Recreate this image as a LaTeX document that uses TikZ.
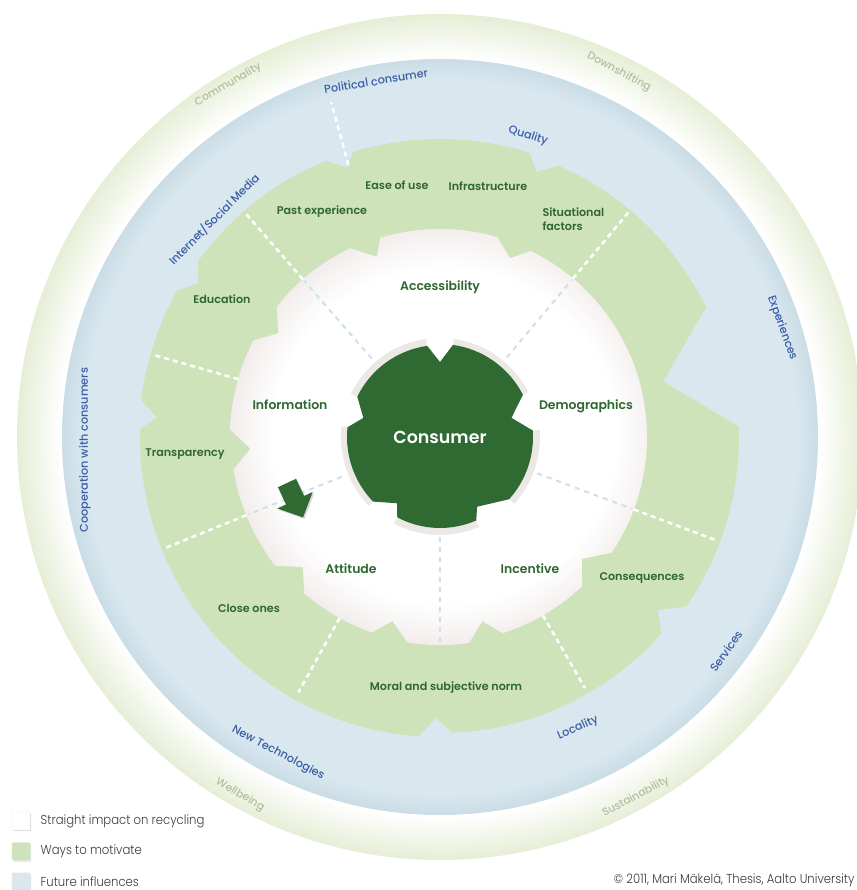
\documentclass[tikz,border=0pt]{standalone}
\usepackage{fontspec}
\setmainfont{Poppins}[BoldFont={Poppins SemiBold}]
\newfontfamily\keyfont{Poppins Light}[FakeStretch=0.9]
\newfontfamily\ringfont{Poppins Medium}
\usetikzlibrary{positioning, shadows}

\definecolor{trendgreen}{HTML}{E6EED6}
\definecolor{futureblue}{HTML}{D9E8EF}
\definecolor{futureedge}{HTML}{CADCE5}
\definecolor{motivgreen}{HTML}{CEE3BA}
\definecolor{impactedge}{HTML}{F2EDEC}
\definecolor{consumergreen}{HTML}{2E6A32}
\definecolor{halogray}{HTML}{ECE8E6}
\definecolor{labelgreen}{HTML}{2F6631}
\definecolor{labelblue}{HTML}{3A5CA6}
\definecolor{labelpale}{HTML}{B3BE9F}
\definecolor{innerdash}{HTML}{CDE0EC}
\definecolor{keygray}{HTML}{3C3C3C}

\pgfdeclareradialshading{trendshade}{\pgfpoint{0bp}{0bp}}{color(0bp)=(white); color(22.4bp)=(white); color(25bp)=(trendgreen); color(50bp)=(trendgreen)}
\pgfdeclareradialshading{futureshade}{\pgfpoint{0bp}{0bp}}{color(0bp)=(futureblue); color(23.6bp)=(futureblue); color(25bp)=(futureedge); color(50bp)=(futureedge)}
\pgfdeclareradialshading{impactshade}{\pgfpoint{0bp}{0bp}}{color(0bp)=(white); color(20bp)=(white); color(25bp)=(impactedge); color(50bp)=(impactedge)}

\tikzset{
    motiv/.style = {font=\bfseries\fontsize{11.2}{14.5}\selectfont, text=labelgreen},
    impact/.style = {font=\bfseries\fontsize{12.5}{15}\selectfont, text=labelgreen},
    future/.style = {font=\ringfont\fontsize{11.3}{13}\selectfont, text=labelblue},
    trend/.style = {font=\ringfont\fontsize{10.8}{13}\selectfont, text=labelpale},
    split/.style = {white, line width=2.5bp, dash pattern=on 5bp off 4bp},
    innersplit/.style = {innerdash, line width=2bp, dash pattern=on 5bp off 5bp},
    keybox/.style = {minimum size=18bp, inner sep=0pt, rounded corners=1bp, draw=black!8, drop shadow={opacity=0.25, shadow xshift=1.2bp, shadow yshift=-1.2bp}},
    keytext/.style = {font=\keyfont\fontsize{13}{15}\selectfont, text=keygray}
}

\begin{document}
\begin{tikzpicture}[x=1bp, y=1bp]

    \useasboundingbox (-440,-453) rectangle (417,437);
    \fill[white] (-440,-453) rectangle (417,437);

    % rings
    \shade[shading=trendshade] (0,0) circle[radius=423];
    \shade[shading=futureshade] (0,0) circle[radius=378];

    % ways to motivate
    \fill[motivgreen]
        (14:230) -- (26:296) arc[start angle=26, end angle=66.5, radius=296]
        -- (70:282) -- (72.5:298) arc[start angle=72.5, end angle=107, radius=298]
        -- (109:285) -- (112.5:299) arc[start angle=112.5, end angle=144, radius=299]
        -- (147.5:287) -- (151:301) arc[start angle=151, end angle=173, radius=301]
        -- (176:284) -- (178.5:300) arc[start angle=178.5, end angle=266, radius=300]
        -- (269:281) -- (272.5:296) arc[start angle=272.5, end angle=318.5, radius=296]
        -- (321.5:278) -- (325.5:299) arc[start angle=325.5, end angle=362, radius=299]
        -- cycle;

    % straight impact
    \shade[shading=impactshade]
        (-34:207) arc[start angle=-34, end angle=64, radius=207]
        -- (68.6:192) -- (74:208) arc[start angle=74, end angle=106.7, radius=208]
        -- (109.3:191) -- (115.5:209) arc[start angle=115.5, end angle=141.4, radius=209]
        -- (147.3:192) -- (152.6:210) arc[start angle=152.6, end angle=178, radius=210]
        -- (183.5:190) -- (189:209) arc[start angle=189, end angle=218, radius=209]
        -- (223.5:189) -- (229:207) arc[start angle=229, end angle=250.8, radius=207]
        -- (255.5:190) -- (261:208) arc[start angle=261, end angle=278, radius=208]
        -- (283:189) -- (287.7:206) arc[start angle=287.7, end angle=313.6, radius=206]
        -- (319.3:187) -- cycle;

    % dividers
    \draw[split] (131:209) -- (131:297) (164:210) -- (164:298) (202:209) -- (202:296)
        (241:207) -- (241:292) (300:206) -- (300:290) (339.5:207) -- (339.5:295)
        (50:207) -- (50:294) (108.6:287) -- (108:352);
    \draw[innersplit] (131:104) -- (131:207) (50:104) -- (50:205) (202:106) -- (202:207)
        (339.5:104) -- (339.5:205) (270:100) -- (270:206);

    % consumer
    \fill[halogray] (0,0) -- (27:99) arc[start angle=27, end angle=82, radius=99] -- cycle
        (0,0) -- (98:99) arc[start angle=98, end angle=154, radius=99] -- cycle
        (0,0) -- (174:99) arc[start angle=174, end angle=224, radius=99] -- cycle
        (0,0) -- (242:98) arc[start angle=242, end angle=293.5, radius=98] -- cycle
        (0,0) -- (318:100) arc[start angle=318, end angle=364, radius=100] -- cycle;
    \fill[consumergreen]
        (27:93) arc[start angle=27, end angle=82, radius=93]
        -- (90:75) -- (98:92) arc[start angle=98, end angle=154, radius=92]
        -- (166:79) -- (174:93) arc[start angle=174, end angle=224, radius=93]
        -- (237:79) -- (242:91) arc[start angle=242, end angle=293.5, radius=91]
        -- (298:79) -- (318:93) arc[start angle=318, end angle=364, radius=93]
        -- (15:74) -- cycle;

    \begin{scope}[shift={(-153,-46)}, rotate=-65]
        \fill[consumergreen, drop shadow={opacity=0.3, shadow xshift=1.5bp, shadow yshift=-1.5bp}]
            (0,-10) -- (19,-10) -- (19,-19.5) -- (38,0) -- (19,19.5) -- (19,10) -- (0,10) -- cycle;
    \end{scope}

    \node (consumer) [font=\bfseries\fontsize{17.5}{20}\selectfont, text=white] at (0,0) {Consumer};

    \node (access) [impact] at (0,150) {Accessibility};
    \node (demo) [impact] at (146,31) {Demographics};
    \node (incent) [impact] at (90,-132) {Incentive};
    \node (attit) [impact] at (-89,-132) {Attitude};
    \node (info) [impact] at (-150,32) {Information};

    \node (ease) [motiv] at (-43,252) {Ease of use};
    \node (infra) [motiv] at (48,251) {Infrastructure};
    \node (past) [motiv] at (-118,225) {Past experience};
    \node (situ) [motiv, align=left, anchor=west] at (99,218) {Situational\\factors};
    \node (edu) [motiv] at (-218,138) {Education};
    \node (transp) [motiv] at (-255,-17) {Transparency};
    \node (close) [motiv] at (-191,-171) {Close ones};
    \node (moral) [motiv] at (6,-251) {Moral and subjective norm};
    \node (conseq) [motiv] at (202,-141) {Consequences};

    \node (political) [future, rotate=9] at (-64,356) {Political consumer};
    \node (quality) [future, rotate=-17] at (88,301) {Quality};
    \node (internet) [future, rotate=45] at (-226,218) {Internet/Social Media};
    \node (coop) [future, rotate=90] at (-355,-13) {Cooperation with consumers};
    \node (exper) [future, rotate=-70] at (342,109) {Experiences};
    \node (services) [future, rotate=55] at (286,-214) {Services};
    \node (locality) [future, rotate=24] at (138,-291) {Locality};
    \node (newtech) [future, rotate=-28] at (-162,-316) {New Technologies};

    \node (commun) [trend, rotate=30] at (-212,352) {Communality};
    \node (downsh) [trend, rotate=-28] at (179,365) {Downshifting};
    \node (wellb) [trend, rotate=-30] at (-200,-358) {Wellbeing};
    \node (sustain) [trend, rotate=28] at (196,-360) {Sustainability};

    % legend
    \node (keyimpact) [keybox, fill=white] at (-419,-384) {};
    \node (keymotiv) [keybox, fill=motivgreen, below = 12bp of keyimpact] {};
    \node (keyfuture) [keybox, fill=futureblue, below = 12bp of keymotiv] {};
    \node (keyimpacttxt) [keytext, right = 7bp of keyimpact] {Straight impact on recycling};
    \node (keymotivtxt) [keytext, right = 7bp of keymotiv] {Ways to motivate};
    \node (keyfuturetxt) [keytext, right = 7bp of keyfuture] {Future influences};
    \node (credit) [keytext, anchor=east] at (418,-443) {© 2011, Mari Mäkelä, Thesis, Aalto University};

\end{tikzpicture}
\end{document}
